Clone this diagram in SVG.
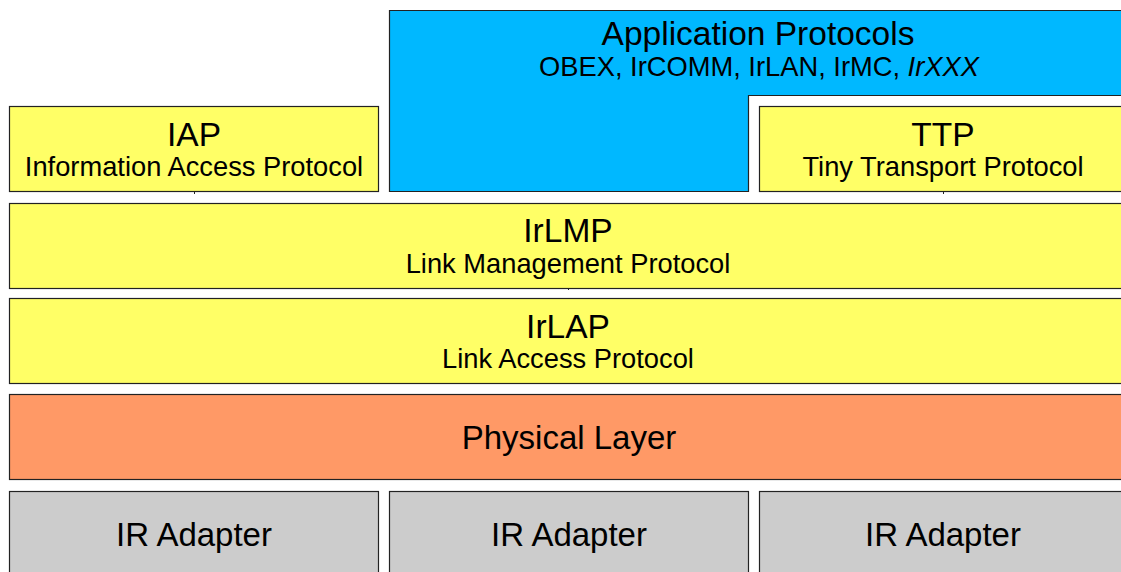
<svg xmlns="http://www.w3.org/2000/svg" width="1121" height="572" viewBox="0 0 1121 572">
<style>
.box{stroke:#222;stroke-width:1.2}
.y{fill:#ffff66}
.b{fill:#00b8ff}
.o{fill:#ff9966}
.g{fill:#cccccc}
.t{font-family:"Liberation Sans",Arial,sans-serif;fill:#000;text-anchor:middle}
.h{font-size:33.5px}
.l{font-size:33px}
.s{font-size:27.3px}
.tick{stroke:#222;stroke-width:1}
</style>
<rect width="1121" height="572" fill="#fff"/>
<g id="app">
<path class="box b" d="M389.5,10.5 H1130 V95.5 H748.5 V191.5 H389.5 Z"/>
<text class="t h" x="758" y="45">Application Protocols</text>
<text class="t s" x="759" y="76">OBEX, IrCOMM, IrLAN, IrMC, <tspan font-style="italic">IrXXX</tspan></text>
</g>
<g id="iap">
<rect class="box y" x="9.5" y="106.5" width="369" height="85"/>
<text class="t h" x="194" y="146">IAP</text>
<text class="t s" x="194" y="176">Information Access Protocol</text>
</g>
<g id="ttp">
<rect class="box y" x="759.5" y="106.5" width="370" height="85"/>
<text class="t h" x="943" y="146">TTP</text>
<text class="t s" x="943" y="176">Tiny Transport Protocol</text>
</g>
<g id="irlmp">
<rect class="box y" x="9.5" y="203.5" width="1120" height="85"/>
<text class="t h" x="568" y="242">IrLMP</text>
<text class="t s" x="568" y="273">Link Management Protocol</text>
</g>
<g id="irlap">
<rect class="box y" x="9.5" y="298.5" width="1120" height="85"/>
<text class="t h" x="568" y="338">IrLAP</text>
<text class="t s" x="568" y="368">Link Access Protocol</text>
</g>
<g id="phy">
<rect class="box o" x="9.5" y="394.5" width="1120" height="85"/>
<text class="t l" x="569" y="449">Physical Layer</text>
</g>
<g id="ir1">
<rect class="box g" x="9.5" y="491.5" width="369" height="90"/>
<text class="t l" x="194" y="546">IR Adapter</text>
</g>
<g id="ir2">
<rect class="box g" x="389.5" y="491.5" width="359" height="90"/>
<text class="t l" x="569" y="546">IR Adapter</text>
</g>
<g id="ir3">
<rect class="box g" x="759.5" y="491.5" width="370" height="90"/>
<text class="t l" x="943" y="546">IR Adapter</text>
</g>
<g id="connectors">
<line class="tick" x1="194.5" y1="191" x2="194.5" y2="194"/>
<line class="tick" x1="943.5" y1="191" x2="943.5" y2="194"/>
<line class="tick" x1="568.5" y1="288" x2="568.5" y2="290"/>
</g>
</svg>
